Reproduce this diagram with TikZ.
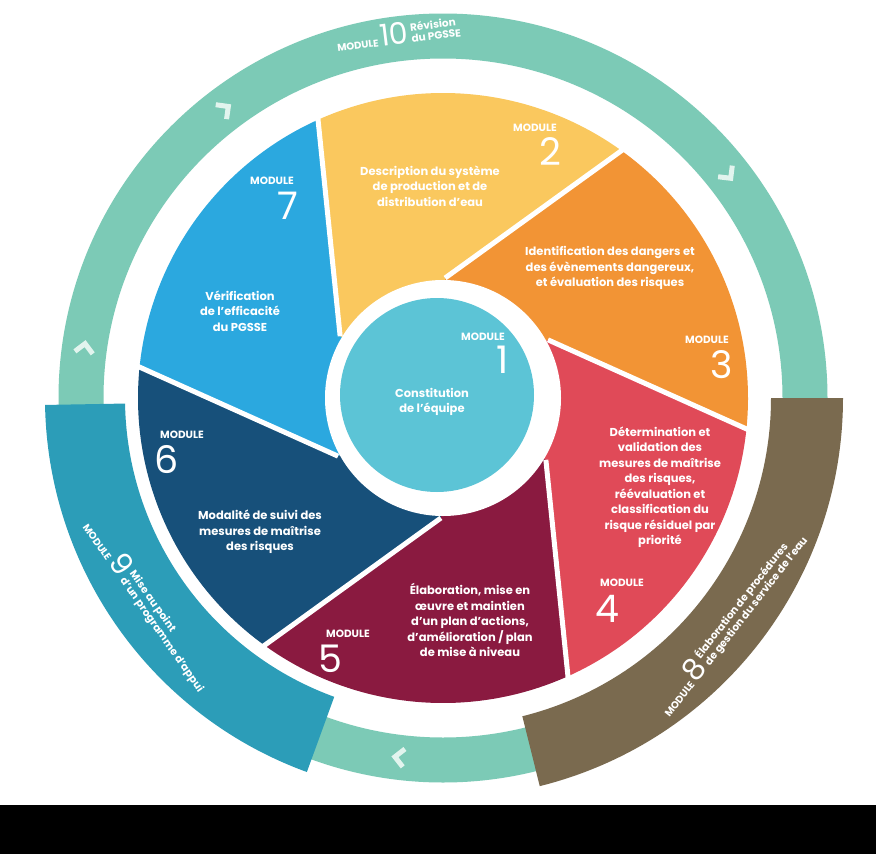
\documentclass[tikz,border=0pt]{standalone}
\usepackage{fontspec}
\setmainfont{Poppins}
\usetikzlibrary{calc}
\definecolor{ringcol}{HTML}{7CCAB6}
\definecolor{chevcol}{HTML}{E2F4EE}
\definecolor{mone}{HTML}{5CC4D6}
\definecolor{mtwo}{HTML}{FAC85E}
\definecolor{mthree}{HTML}{F29435}
\definecolor{mfour}{HTML}{E04A58}
\definecolor{mfive}{HTML}{8A1A40}
\definecolor{msix}{HTML}{17507A}
\definecolor{mseven}{HTML}{2BA8DF}
\definecolor{meight}{HTML}{7A6A4F}
\definecolor{mnine}{HTML}{2C9DB8}

\begin{document}
\begin{tikzpicture}[x=1pt, y=1pt,
    bladetxt/.style={text=white, font=\bfseries\fontsize{11.5}{15.5}\selectfont, align=center},
    modlbl/.style={text=white, font=\bfseries\fontsize{10.5}{11}\selectfont},
    modnum/.style={text=white, font=\fontsize{38}{38}\selectfont},
    chev/.style={chevcol, line width=5pt}]
\useasboundingbox (0,0) rectangle (876,-854);
\fill[white] (0,0) rectangle (876,-805);
\fill[black] (0,-805) rectangle (876,-854);
\coordinate (C) at (443,-398);

% outer ring
\draw[ringcol, line width=45pt] (C) circle[radius=362pt];
\foreach \t in {127,38,172,263}
    \draw[chev, shift={($(C)+(\t:362pt)$)}, rotate=\t-90] (-5,9) -- (4,0) -- (-5,-9);

% module 8 and 9 bands
\fill[meight] ($(C)+(0:328pt)$) arc[start angle=0, end angle=-76, radius=328pt]
    -- ($(C)+(-76:400pt)$) arc[start angle=-76, end angle=0, radius=400pt] -- cycle;
\fill[mnine] ($(C)+(181:318pt)$) arc[start angle=181, end angle=250, radius=318pt]
    -- ($(C)+(250:398pt)$) arc[start angle=250, end angle=181, radius=398pt] -- cycle;

% blades
\foreach \a/\col in {114/mtwo, 54/mthree, -6/mfour, -66/mfive, -126/msix, 174/mseven}
    \fill[\col] ($(C)+(\a+35:120pt)$) -- ($(C)+(\a:305pt)$)
        arc[start angle=\a, end angle=\a-60, radius=305pt]
        -- ($(C)+(\a-25:120pt)$) -- (C) -- cycle;
\foreach \a in {114,54,-6,-66,-126,174}
    \draw[white, line width=5pt] ($(C)+(\a+35:120pt)$) -- ($(C)+(\a:308pt)$);
\fill[white] (C) circle[radius=118pt];
\fill[mone] (437,-395) circle[radius=97pt];

% module 1
\node[modlbl] (l1) at (483,-337) {MODULE};
\node[modnum] (n1) at (503,-360) {1};
\node[bladetxt] (t1) at (432,-402) {Constitution\\de l'équipe};
% module 2
\node[modlbl] (l2) at (535,-128) {MODULE};
\node[modnum] (n2) at (550,-152) {2};
\node[bladetxt] (t2) at (430,-186) {Description du système\\de production et de\\distribution d'eau};
% module 3
\node[bladetxt] (t3) at (610,-268) {Identification des dangers et\\des évènements dangereux,\\et évaluation des risques};
\node[modlbl] (l3) at (707,-340) {MODULE};
\node[modnum] (n3) at (722,-365) {3};
% module 4
\node[bladetxt] (t4) at (660,-487) {Détermination et\\validation des\\mesures de maîtrise\\des risques,\\réévaluation et\\classification du\\risque résiduel par\\priorité};
\node[modlbl] (l4) at (622,-583) {MODULE};
\node[modnum] (n4) at (607,-609) {4};
% module 5
\node[bladetxt] (t5) at (470,-620) {Élaboration, mise en\\œuvre et maintien\\d'un plan d'actions,\\d'amélioration / plan\\de mise à niveau};
\node[modlbl] (l5) at (348,-634) {MODULE};
\node[modnum] (n5) at (330,-659) {5};
% module 6
\node[modlbl] (l6) at (182,-435) {MODULE};
\node[modnum] (n6) at (167,-460) {6};
\node[bladetxt] (t6) at (260,-532) {Modalité de suivi des\\mesures de maîtrise\\des risques};
% module 7
\node[modlbl] (l7) at (272,-181) {MODULE};
\node[modnum] (n7) at (288,-206) {7};
\node[bladetxt] (t7) at (240,-311) {Vérification\\de l'efficacité\\du PGSSE};

% ring labels
\node[rotate=7, text=white, inner sep=0pt] (m10) at ($(C)+(97:366pt)$)
    {{\bfseries\fontsize{10}{11}\selectfont MODULE }{\fontsize{30}{30}\selectfont 10}
     \bfseries\fontsize{10.5}{11}\selectfont\begin{tabular}[b]{@{}l@{}}Révision\\du PGSSE\end{tabular}};
\node[rotate=52, text=white, inner sep=0pt] (m8) at ($(C)+(-38:366pt)$)
    {{\bfseries\fontsize{10}{11}\selectfont MODULE }{\fontsize{30}{30}\selectfont 8}
     \bfseries\fontsize{10.5}{11}\selectfont\begin{tabular}[b]{@{}l@{}}Élaboration de procédures\\de gestion du service de l'eau\end{tabular}};
\node[rotate=-55, text=white, inner sep=0pt] (m9) at ($(C)+(215:360pt)$)
    {{\bfseries\fontsize{10}{11}\selectfont MODULE }{\fontsize{30}{30}\selectfont 9}
     \bfseries\fontsize{10.5}{11}\selectfont\begin{tabular}[b]{@{}l@{}}Mise au point\\d'un programme d'appui\end{tabular}};
\end{tikzpicture}
\end{document}
